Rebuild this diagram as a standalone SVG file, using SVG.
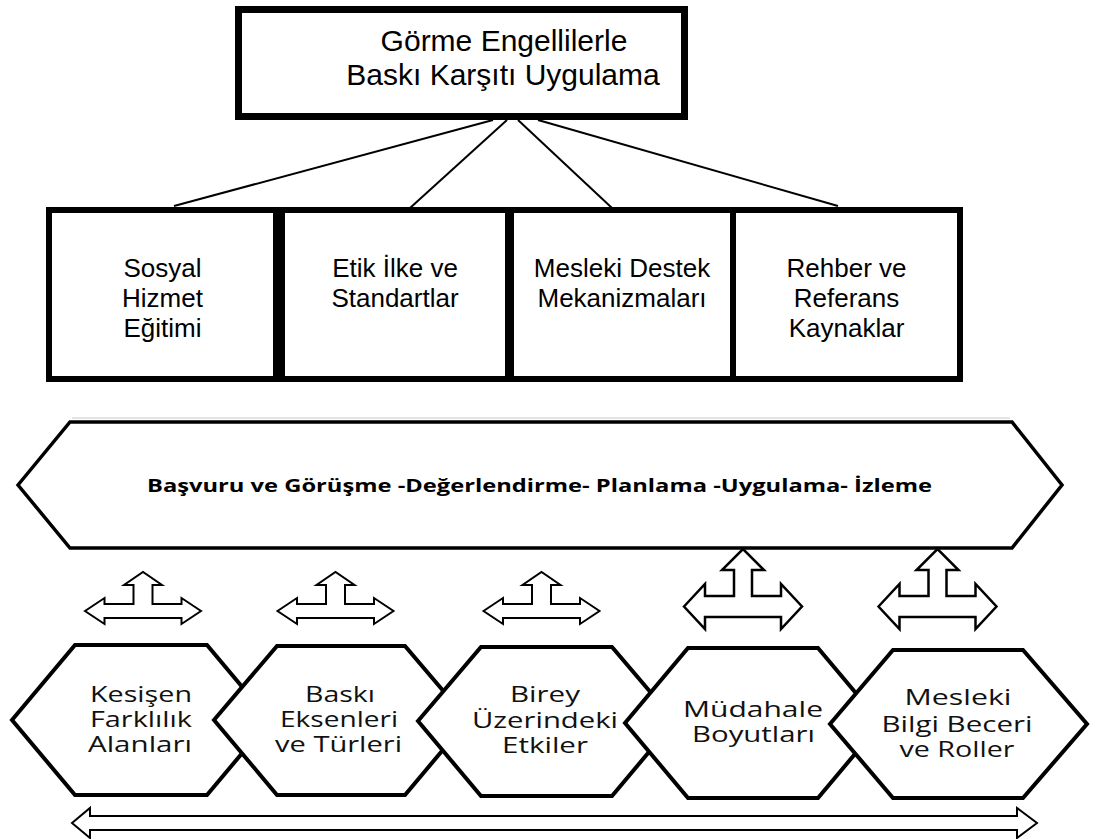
<svg xmlns="http://www.w3.org/2000/svg" xmlns:xlink="http://www.w3.org/1999/xlink" width="1099" height="839" viewBox="0 0 1099 839">
<style>
.box{fill:#fff;stroke:#000;stroke-width:6}
.ttl{font-family:"Liberation Sans",Arial,sans-serif;font-size:30px;fill:#000;text-anchor:middle}
.bt{font-family:"Liberation Sans",Arial,sans-serif;font-size:26px;fill:#000;text-anchor:middle}
.hex{fill:#fff;stroke:#000;stroke-width:4;stroke-linejoin:miter}
.ht{font-family:"Open Sans","Noto Sans",sans-serif;font-size:21px;fill:#111;text-anchor:middle}
.ban{fill:#fff;stroke:#000;stroke-width:3.5}
.bant{font-family:"Open Sans","Noto Sans",sans-serif;font-weight:bold;font-size:18.5px;fill:#000}
.con{stroke:#000;stroke-width:2;fill:none}
.arr{fill:#fff;stroke:#000;stroke-width:2;stroke-linejoin:miter}
.arrL{fill:#fff;stroke:#000;stroke-width:2.5;stroke-linejoin:miter}
</style>
<defs>
<path id="triS" d="M-58,611 L-38.5,598 L-38.5,604 L-9.5,604 L-9.5,585 L-19,585 L0,572 L19,585 L9.5,585 L9.5,604 L38.5,604 L38.5,598 L58,611 L38.5,624 L38.5,618 L-38.5,618 L-38.5,624 Z"/>
<path id="triL" d="M-59,606.5 L-38,584 L-38,596 L-9,596 L-9,570 L-21,570 L0,549 L21,570 L9,570 L9,596 L38,596 L38,584 L59,606.5 L38,629 L38,617 L-38,617 L-38,629 Z"/>
</defs>
<rect width="1099" height="839" fill="#fff"/>

<g id="connectors">
<line class="con" x1="493" y1="120" x2="174" y2="206"/>
<line class="con" x1="507" y1="120" x2="410" y2="208"/>
<line class="con" x1="518" y1="120" x2="612" y2="208"/>
<line class="con" x1="538" y1="120" x2="838" y2="206"/>
<line x1="72" y1="418" x2="1010" y2="418" stroke="#c8c8c8" stroke-width="1"/>
<use xlink:href="#triS" class="arr" x="143"/>
<use xlink:href="#triS" class="arr" x="335.5"/>
<use xlink:href="#triS" class="arr" x="541.5"/>
<use xlink:href="#triL" class="arrL" x="743"/>
<use xlink:href="#triL" class="arrL" x="937.5"/>
<path class="arr" stroke-width="1.6" d="M72,823 L90,808 L90,816 L1017,816 L1017,808 L1037,823 L1017,838 L1017,830 L90,830 L90,838 Z"/>
</g>

<g id="title">
<rect x="238.5" y="9.5" width="446" height="107" fill="#fff" stroke="#000" stroke-width="7"/>
<text class="ttl" x="504" y="51">Görme Engellilerle</text>
<text class="ttl" x="503" y="85">Baskı Karşıtı Uygulama</text>
</g>

<g id="box1">
<rect class="box" x="49" y="210" width="227" height="169"/>
<text class="bt" x="162.5" y="277">Sosyal</text>
<text class="bt" x="162.5" y="307">Hizmet</text>
<text class="bt" x="162.5" y="337">Eğitimi</text>
</g>
<g id="box2">
<rect class="box" x="282" y="210" width="226" height="169"/>
<text class="bt" x="395" y="277">Etik İlke ve</text>
<text class="bt" x="395" y="307">Standartlar</text>
</g>
<g id="box3">
<rect class="box" x="511" y="210" width="222" height="169"/>
<text class="bt" x="622" y="277">Mesleki Destek</text>
<text class="bt" x="622" y="307">Mekanizmaları</text>
</g>
<g id="box4">
<rect class="box" x="733" y="210" width="227" height="169"/>
<text class="bt" x="846.5" y="277">Rehber ve</text>
<text class="bt" x="846.5" y="307">Referans</text>
<text class="bt" x="846.5" y="337">Kaynaklar</text>
</g>

<g id="process">
<polygon class="ban" points="18,485 70,422 1012,422 1062,485 1012,548 70,548"/>
<text class="bant" x="147" y="492" textLength="785" lengthAdjust="spacingAndGlyphs">Başvuru ve Görüşme -Değerlendirme- Planlama -Uygulama- İzleme</text>
</g>

<g id="hex1">
<polygon class="hex" points="12,720 75,645 207,645 270,720 207,795 75,795"/>
<text class="ht" x="141" y="702" textLength="102" lengthAdjust="spacingAndGlyphs">Kesişen</text>
<text class="ht" x="141" y="727" textLength="102" lengthAdjust="spacingAndGlyphs">Farklılık</text>
<text class="ht" x="140" y="752" textLength="104" lengthAdjust="spacingAndGlyphs">Alanları</text>
</g>
<g id="hex2">
<polygon class="hex" points="214,720 277,646 405,646 468,720 405,795 277,795"/>
<text class="ht" x="340" y="702" textLength="70" lengthAdjust="spacingAndGlyphs">Baskı</text>
<text class="ht" x="339" y="727" textLength="118" lengthAdjust="spacingAndGlyphs">Eksenleri</text>
<text class="ht" x="338.5" y="752" textLength="127" lengthAdjust="spacingAndGlyphs">ve Türleri</text>
</g>
<g id="hex3">
<polygon class="hex" points="418,721 481,647 612,647 675,721 612,796 481,796"/>
<text class="ht" x="545" y="702" textLength="70" lengthAdjust="spacingAndGlyphs">Birey</text>
<text class="ht" x="545" y="728" textLength="146" lengthAdjust="spacingAndGlyphs">Üzerindeki</text>
<text class="ht" x="545" y="753" textLength="86" lengthAdjust="spacingAndGlyphs">Etkiler</text>
</g>
<g id="hex4">
<polygon class="hex" points="625,723 688,648 818,648 881,723 818,798 688,798"/>
<text class="ht" x="753" y="717" textLength="140" lengthAdjust="spacingAndGlyphs">Müdahale</text>
<text class="ht" x="753.5" y="742" textLength="123" lengthAdjust="spacingAndGlyphs">Boyutları</text>
</g>
<g id="hex5">
<polygon class="hex" points="830,724 893,650 1023,650 1087,724 1023,798 893,798"/>
<text class="ht" x="958" y="705" textLength="107" lengthAdjust="spacingAndGlyphs">Mesleki</text>
<text class="ht" x="957" y="732" textLength="151" lengthAdjust="spacingAndGlyphs">Bilgi Beceri</text>
<text class="ht" x="957" y="757" textLength="115" lengthAdjust="spacingAndGlyphs">ve Roller</text>
</g>
</svg>
